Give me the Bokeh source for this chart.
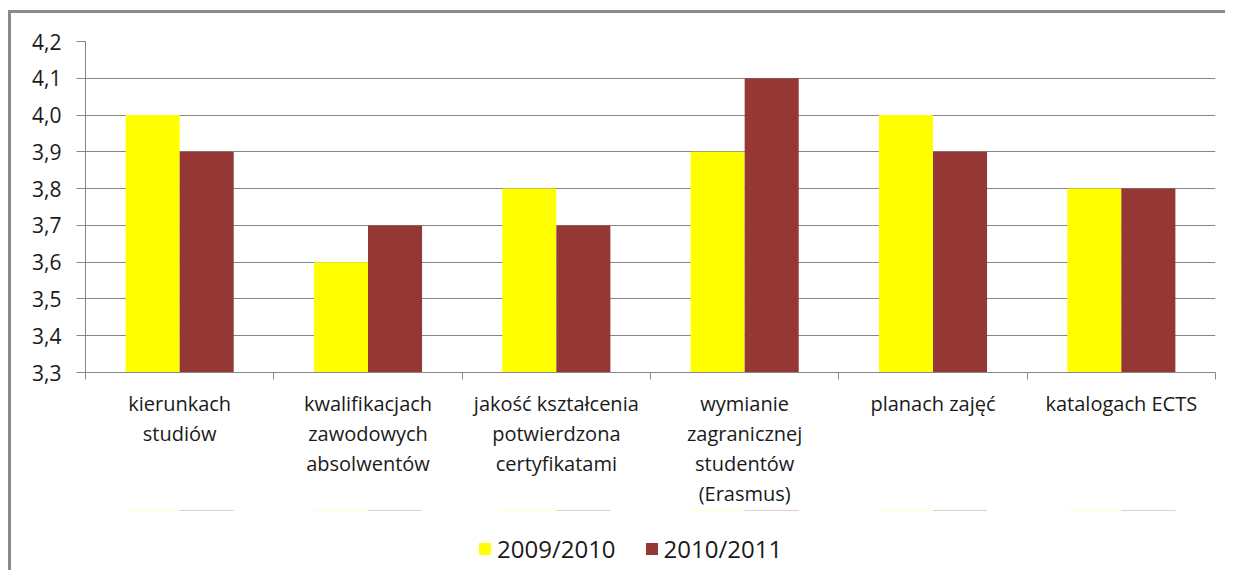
from bokeh.plotting import figure
from bokeh.models import FixedTicker, CustomJSTickFormatter, Legend, LegendItem, Range1d
from bokeh.layouts import column
from bokeh.embed import file_html
from bokeh.resources import INLINE
import numpy as np

categories = [
    "kierunkach\nstudiów",
    "kwalifikacjach\nzawodowych\nabsolwentów",
    "jakość kształcenia\npotwierdzona\ncertyfikatami",
    "wymianie\nzagranicznej\nstudentów\n(Erasmus)",
    "planach zajęć",
    "katalogach ECTS",
]
series_names = ["2009/2010", "2010/2011"]
values_2009 = [4.0, 3.6, 3.8, 3.9, 4.0, 3.8]
values_2010 = [3.9, 3.7, 3.7, 4.1, 3.9, 3.8]
y_ticks = [3.3, 3.4, 3.5, 3.6, 3.7, 3.8, 3.9, 4.0, 4.1, 4.2]
colors = ["#FFFF00", "#953735"]

FONT = "Open Sans"
GRAY = "#868686"
W = 1225
H1 = 510
H2 = 60

n = len(categories)
centers = np.arange(n) + 0.5
bw = 0.287

p = figure(width=W, height=H1, x_range=Range1d(0, n), y_range=Range1d(y_ticks[0], y_ticks[-1]),
           output_backend="svg", toolbar_location=None,
           min_border_left=85, min_border_top=41, min_border_right=10, min_border_bottom=137)
p.outline_line_color = None
p.background_fill_color = "white"
p.border_fill_color = None

r1 = p.vbar(x=centers - bw / 2, top=values_2009, bottom=y_ticks[0], width=bw, fill_color=colors[0], line_color=None)
r2 = p.vbar(x=centers + bw / 2, top=values_2010, bottom=y_ticks[0], width=bw, fill_color=colors[1], line_color=None)

p.yaxis.ticker = FixedTicker(ticks=y_ticks, minor_ticks=[])
p.yaxis.formatter = CustomJSTickFormatter(code="return tick.toFixed(1).replace('.', ',');")
p.yaxis.axis_line_color = GRAY
p.yaxis.major_tick_line_color = GRAY
p.yaxis.major_tick_out = 9
p.yaxis.major_tick_in = 0
p.yaxis.minor_tick_line_color = None
p.yaxis.major_label_text_font = FONT
p.yaxis.major_label_text_font_size = "21px"
p.yaxis.major_label_text_color = "#1a1a1a"
p.yaxis.major_label_standoff = 15

p.ygrid.ticker = FixedTicker(ticks=y_ticks)
p.ygrid.grid_line_color = GRAY
p.ygrid.grid_line_width = 1
p.xgrid.grid_line_color = None

p.xaxis.ticker = FixedTicker(ticks=list(centers), minor_ticks=list(range(n + 1)))
p.xaxis.major_label_overrides = {float(c): lab for c, lab in zip(centers, categories)}
p.xaxis.axis_line_color = GRAY
p.xaxis.major_tick_line_color = None
p.xaxis.major_tick_out = 0
p.xaxis.major_tick_in = 0
p.xaxis.minor_tick_line_color = GRAY
p.xaxis.minor_tick_out = 7
p.xaxis.minor_tick_in = 0
p.xaxis.major_label_text_font = FONT
p.xaxis.major_label_text_font_size = "20px"
p.xaxis.major_label_text_color = "#1a1a1a"
p.xaxis.major_label_text_line_height = 1.12
p.xaxis.major_label_standoff = 10

# legend strip (its frame is aligned with the chart frame by the column)
p2 = figure(width=W, height=H2, x_range=Range1d(0, n), y_range=Range1d(0, 1),
            output_backend="svg", toolbar_location=None,
            x_axis_location=None, y_axis_location=None,
            min_border_left=85, min_border_right=10, min_border_top=0, min_border_bottom=0)
p2.outline_line_color = None
p2.background_fill_color = None
p2.border_fill_color = None
p2.xgrid.grid_line_color = None
p2.ygrid.grid_line_color = None
# zero-height copies of the series, used only for the legend swatches
l1 = p2.vbar(x=centers - bw / 2, top=values_2009, bottom=values_2009, width=bw, fill_color=colors[0], line_color=None)
l2 = p2.vbar(x=centers + bw / 2, top=values_2010, bottom=values_2010, width=bw, fill_color=colors[1], line_color=None)

legend = Legend(items=[LegendItem(label=series_names[0], renderers=[l1]),
                       LegendItem(label=series_names[1], renderers=[l2])],
                orientation="horizontal", location=(392, 5))
legend.label_text_font = FONT
legend.label_text_font_size = "24px"
legend.label_text_color = "#1a1a1a"
legend.glyph_width = 15
legend.glyph_height = 15
legend.label_standoff = 5
legend.spacing = 28
legend.border_line_color = None
legend.background_fill_alpha = 0
legend.margin = 0
legend.padding = 0
p2.add_layout(legend)

layout = column(p, p2, spacing=0)
layout.styles = {
    "background-color": "white",
    "background-image": "linear-gradient(#8a8a8a, #8a8a8a), linear-gradient(#8a8a8a, #8a8a8a)",
    "background-size": "3px 100%, 100% 3px",
    "background-position": "8px 10px, 8px 10px",
    "background-repeat": "no-repeat",
}

open("out.html", "w").write(file_html(layout, INLINE))
